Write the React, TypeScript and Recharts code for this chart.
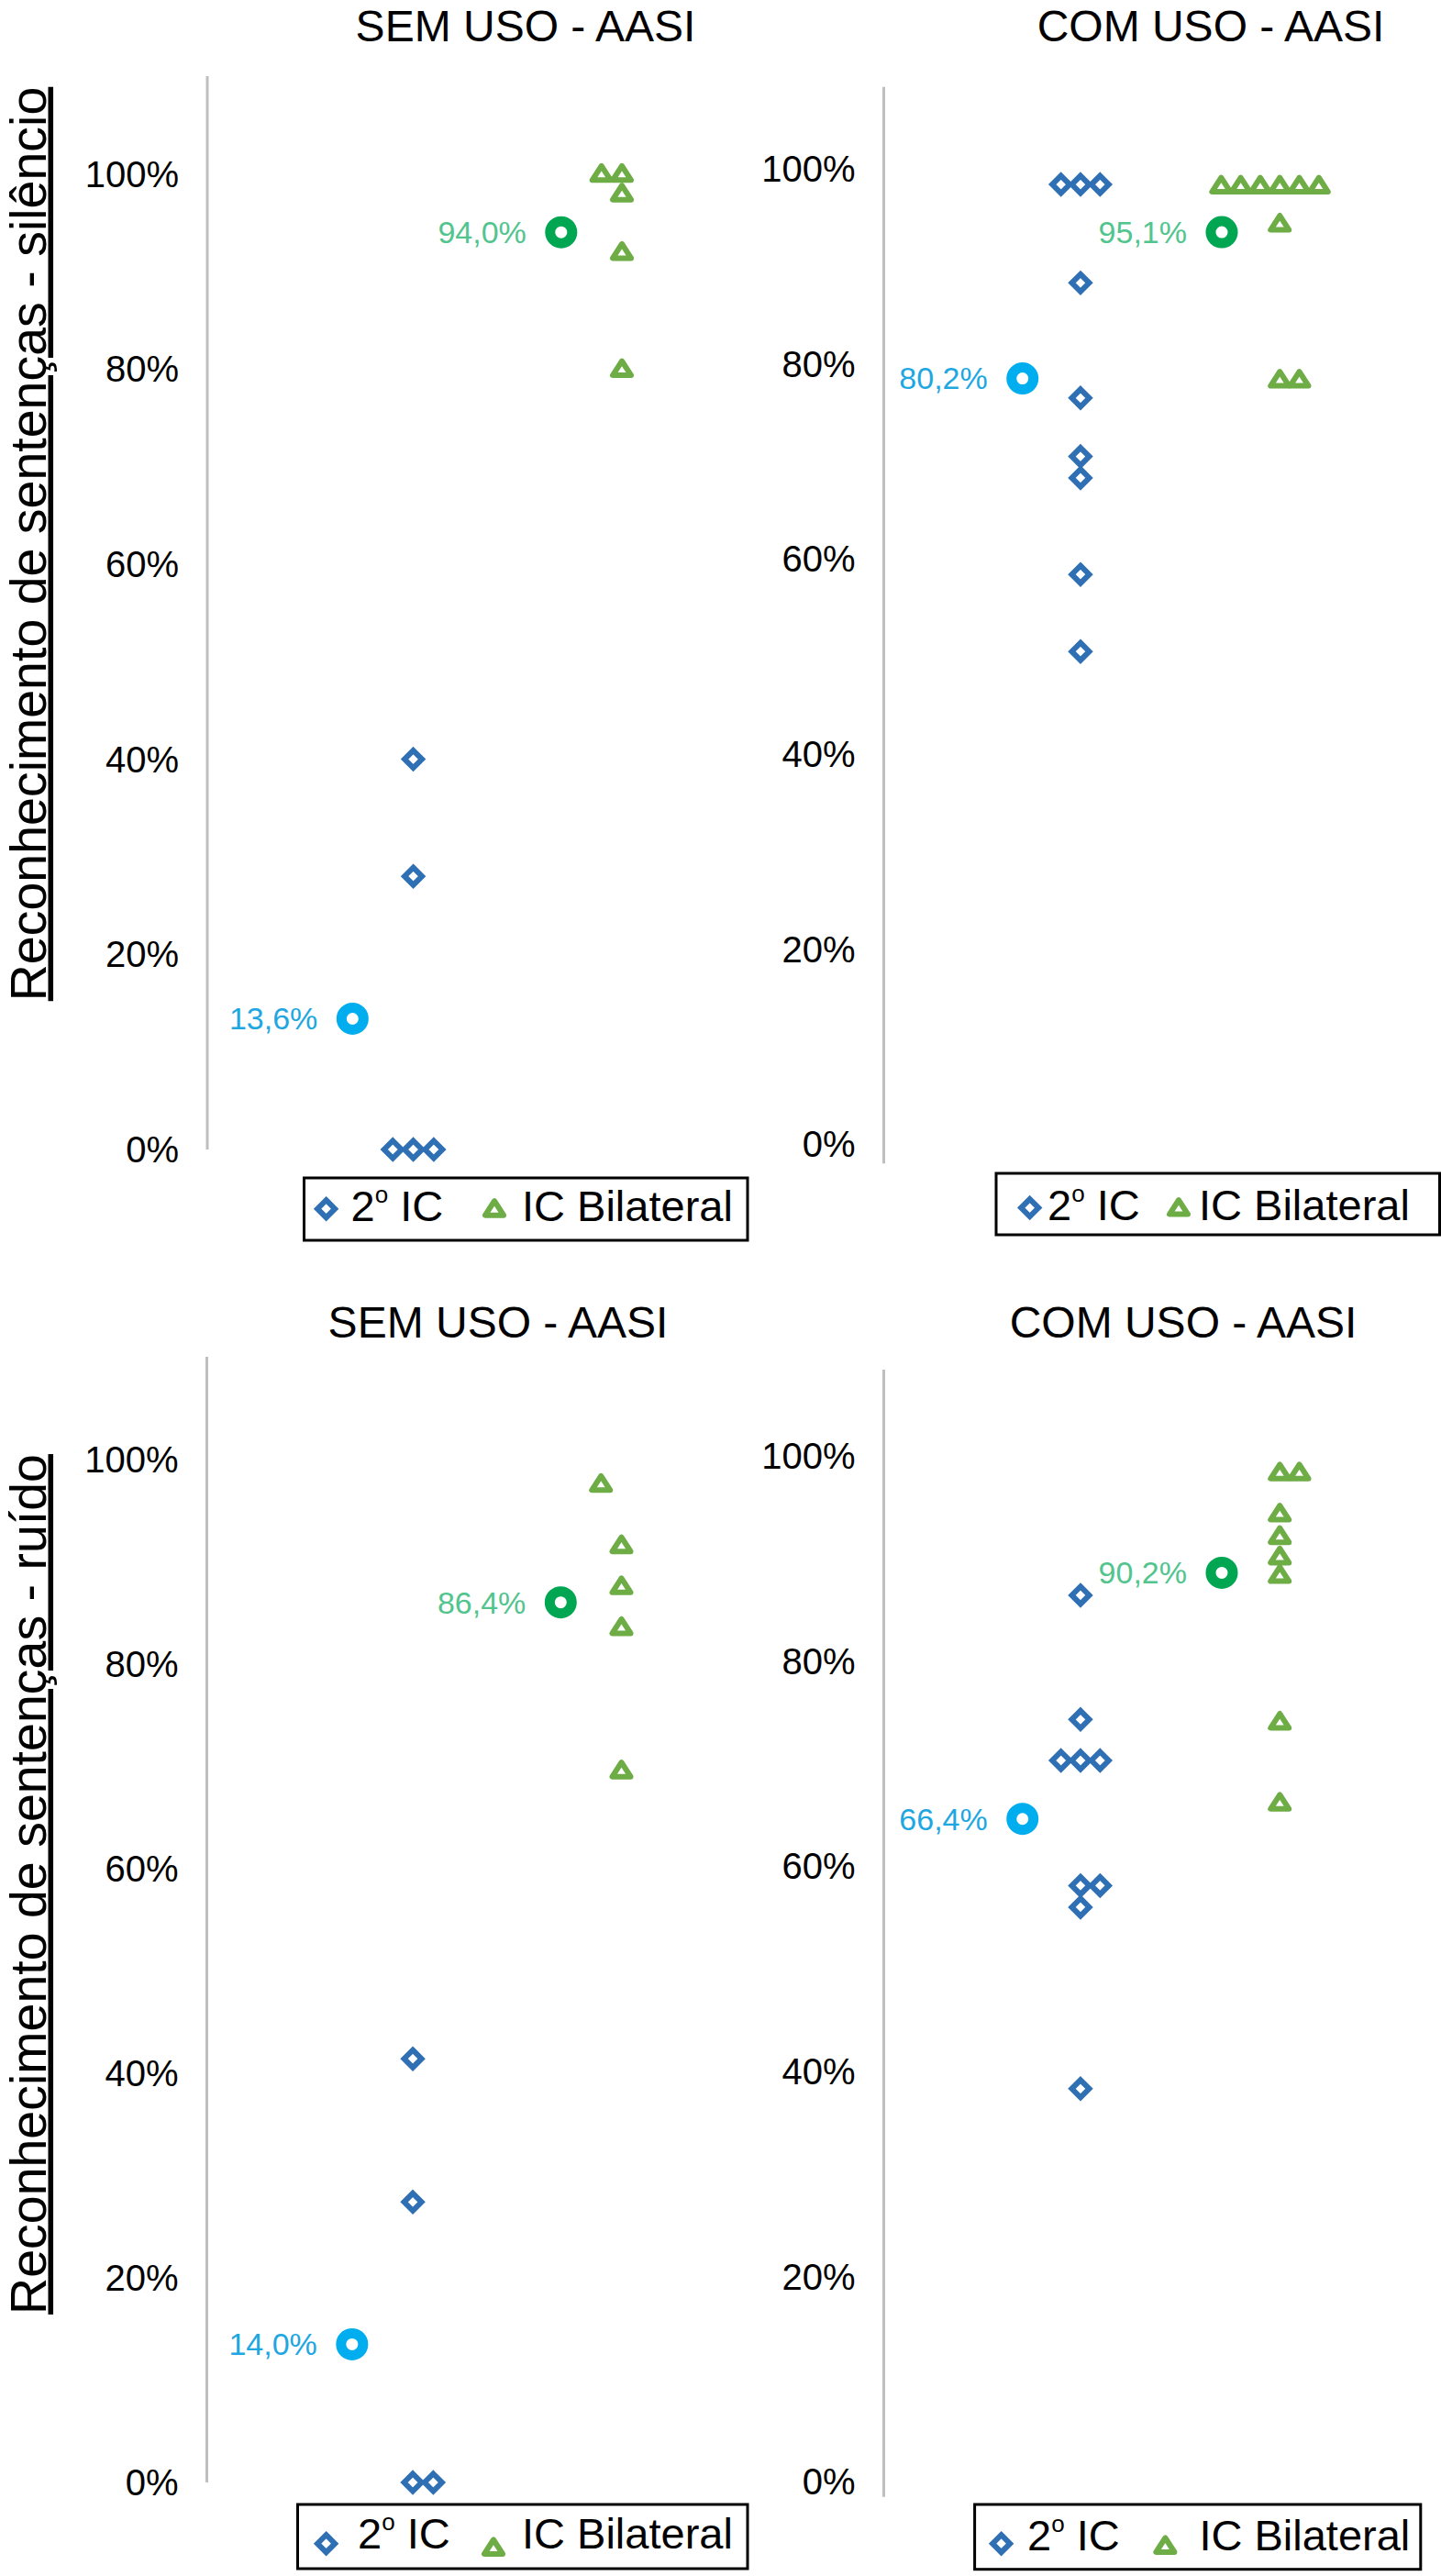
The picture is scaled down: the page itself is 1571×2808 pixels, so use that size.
import React from 'react';
import { ScatterChart, Scatter, XAxis, YAxis } from 'recharts';

const FONT = '"Liberation Sans", Arial, Helvetica, sans-serif';

// y axis ticks (percent)
const yTicks = [0, 20, 40, 60, 80, 100];

// x slots (axis units) for: mean 2º IC, 2º IC, mean IC Bilateral, IC Bilateral
const categorySlots = [7.1, 10.07, 17.3, 20.27];

// --- Silêncio / sem uso AASI ---
const silSemIC2 = [40, 28, 0, 0, 0];
const silSemIC2Jitter = [0, 0, -1, 0, 1];
const silSemBil = [100, 100, 98, 92, 80];
const silSemBilJitter = [-1, 0, 0, 0, 0];
const silSemMeans = [13.4, 94.0];
const silSemMeanLabels = ['13,6%', '94,0%'];

// --- Silêncio / com uso AASI ---
const silComIC2 = [98.4, 98.4, 98.4, 88.3, 76.5, 70.5, 68.3, 58.4, 50.5];
const silComIC2Jitter = [-1, 0, 1, 0, 0, 0, 0, 0, 0];
const silComBil = [98.3, 98.3, 98.3, 98.3, 98.3, 98.3, 94.4, 78.4, 78.4];
const silComBilJitter = [-3, -2, -1, 0, 1, 2, 0, 0, 1];
const silComMeans = [78.5, 93.5];
const silComMeanLabels = ['80,2%', '95,1%'];

// --- Ruído / sem uso AASI ---
const ruiSemIC2 = [41.4, 27.4, 0, 0];
const ruiSemIC2Jitter = [0, 0, 0, 1];
const ruiSemBil = [97.6, 91.6, 87.6, 83.6, 69.6];
const ruiSemBilJitter = [-1, 0, 0, 0, 0];
const ruiSemMeans = [13.5, 86.0];
const ruiSemMeanLabels = ['14,0%', '86,4%'];

// --- Ruído / com uso AASI ---
const ruiComIC2 = [86.4, 74.3, 70.3, 70.3, 70.3, 58.1, 58.1, 56.0, 38.3];
const ruiComIC2Jitter = [0, 0, -1, 0, 1, 0, 1, 0, 0];
const ruiComBil = [98.4, 98.4, 94.4, 92.2, 90.2, 88.4, 74.1, 66.2];
const ruiComBilJitter = [0, 1, 0, 0, 0, 0, 0, 0];
const ruiComMeans = [64.6, 88.6];
const ruiComMeanLabels = ['66,4%', '90,2%'];

const BLUE = '#2F6FB3';
const GREEN = '#6EAC46';
const MEAN_BLUE = '#00AEEF';
const MEAN_GREEN = '#00A651';
const LABEL_BLUE = '#1EA7E1';
const LABEL_GREEN = '#52C48E';

const Diamond = (props: any) => {
  const { cx, cy } = props;
  const r = 9.5;
  return (
    <path
      d={`M${cx},${cy - r}L${cx + r},${cy}L${cx},${cy + r}L${cx - r},${cy}Z`}
      fill="#fff"
      stroke={BLUE}
      strokeWidth={6}
    />
  );
};

const Triangle = (props: any) => {
  const { cx, cy } = props;
  return (
    <path
      d={`M${cx - 10},${cy + 7}L${cx + 10},${cy + 7}L${cx},${cy - 8.5}Z`}
      fill="#fff"
      stroke={GREEN}
      strokeWidth={6}
      strokeLinejoin="round"
    />
  );
};

const meanShape = (ring: string, textColor: string) => (props: any) => {
  const { cx, cy, payload } = props;
  return (
    <g>
      <circle cx={cx} cy={cy} r={12} fill="#fff" stroke={ring} strokeWidth={11} />
      <text
        x={cx - 38}
        y={cy}
        dy="0.35em"
        textAnchor="end"
        fontSize={34}
        fontFamily={FONT}
        fill={textColor}
      >
        {payload.label}
      </text>
    </g>
  );
};

const toPoints = (values: number[], jitter: number[], slot: number) =>
  values.map((y, i) => ({ x: slot + jitter[i], y }));

interface PanelProps {
  left: number;
  top: number;
  width: number;
  height: number;
  yWidth: number;
  margin: { top: number; right: number; bottom: number };
  domain: [number, number];
  ic2: number[];
  ic2Jitter: number[];
  bil: number[];
  bilJitter: number[];
  means: number[];
  meanLabels: string[];
}

const Panel: React.FC<PanelProps> = (p) => {
  const mean2 = [{ x: categorySlots[0], y: p.means[0], label: p.meanLabels[0] }];
  const meanB = [{ x: categorySlots[2], y: p.means[1], label: p.meanLabels[1] }];
  return (
    <div style={{ position: 'absolute', left: p.left, top: p.top }}>
      <ScatterChart
        width={p.width}
        height={p.height}
        margin={{ top: p.margin.top, right: p.margin.right, bottom: p.margin.bottom, left: 0 }}
      >
        <XAxis type="number" dataKey="x" domain={[0, 27]} hide />
        <YAxis
          type="number"
          dataKey="y"
          domain={p.domain}
          ticks={yTicks}
          interval={0}
          width={p.yWidth}
          axisLine={{ stroke: '#BFBFBF', strokeWidth: 3 }}
          tickLine={false}
          tickSize={0}
          tickMargin={31}
          tick={{ fontSize: 40, fill: '#000', fontFamily: FONT }}
          tickFormatter={(v: number) => `${v}%`}
        />
        <Scatter data={mean2} shape={meanShape(MEAN_BLUE, LABEL_BLUE)} isAnimationActive={false} />
        <Scatter data={toPoints(p.ic2, p.ic2Jitter, categorySlots[1])} shape={Diamond} isAnimationActive={false} />
        <Scatter data={meanB} shape={meanShape(MEAN_GREEN, LABEL_GREEN)} isAnimationActive={false} />
        <Scatter data={toPoints(p.bil, p.bilJitter, categorySlots[3])} shape={Triangle} isAnimationActive={false} />
      </ScatterChart>
    </div>
  );
};

const LegendBox = ({ x, y, w, h, dx, tx, ix, bx, baseline, my, ty }: any) => (
  <g fontFamily={FONT}>
    <rect x={x} y={y} width={w} height={h} fill="#fff" stroke="#000" strokeWidth={3} />
    <Diamond cx={dx} cy={my} />
    <text x={tx} y={baseline} fontSize={47} fill="#000">
      2<tspan fontSize={26} dy={-20}>o</tspan>
      <tspan dy={20}>{'\u00A0IC'}</tspan>
    </text>
    <Triangle cx={ix} cy={ty} />
    <text x={bx} y={baseline} fontSize={47} fill="#000">IC Bilateral</text>
  </g>
);

const Overlay = () => (
  <svg
    width={1571}
    height={2808}
    style={{ position: 'absolute', left: 0, top: 0, pointerEvents: 'none' }}
  >
    <g fontFamily={FONT} fill="#000">
      <text x={573} y={45} fontSize={48} textAnchor="middle">SEM USO - AASI</text>
      <text x={1320} y={45} fontSize={48} textAnchor="middle">COM USO - AASI</text>
      <text x={543} y={1458} fontSize={48} textAnchor="middle">SEM USO - AASI</text>
      <text x={1290} y={1458} fontSize={48} textAnchor="middle">COM USO - AASI</text>
      <text
        transform="translate(49.5,593) rotate(-90)"
        textAnchor="middle"
        fontSize={55.5}
        textDecoration="underline"
      >
        Reconhecimento de sentenças - silêncio
      </text>
      <text
        transform="translate(49.5,2054) rotate(-90)"
        textAnchor="middle"
        fontSize={55.5}
        textDecoration="underline"
      >
        Reconhecimento de sentenças - ruído
      </text>
    </g>
    <LegendBox x={331.5} y={1284} w={483.5} h={68} dx={355.6} tx={382.6} ix={539} bx={569} baseline={1331} my={1317.7} ty={1317.7} />
    <LegendBox x={1086} y={1279} w={483.5} h={67} dx={1122.7} tx={1142} ix={1285} bx={1307} baseline={1330} my={1316.6} ty={1316.6} />
    <LegendBox x={324.5} y={2730} w={490.5} h={70} dx={355.6} tx={390} ix={538} bx={569} baseline={2778} my={2772.7} ty={2777} />
    <LegendBox x={1062.6} y={2730} w={486.2} h={70.7} dx={1091.6} tx={1120} ix={1270.4} bx={1307.4} baseline={2779.5} my={2772.7} ty={2775} />
  </svg>
);

const App: React.FC = () => (
  <div style={{ position: 'absolute', left: 0, top: 0, width: 1571, height: 2808, background: '#fff' }}>
    <Panel
      left={0} top={0} width={840} height={1300} yWidth={226}
      margin={{ top: 83, right: 11.9, bottom: 47 }}
      domain={[0, 110]}
      ic2={silSemIC2} ic2Jitter={silSemIC2Jitter}
      bil={silSemBil} bilJitter={silSemBilJitter}
      means={silSemMeans} meanLabels={silSemMeanLabels}
    />
    <Panel
      left={740} top={0} width={831} height={1300} yWidth={223.5}
      margin={{ top: 94.7, right: 32.4, bottom: 31.7 }}
      domain={[-2, 108.4]}
      ic2={silComIC2} ic2Jitter={silComIC2Jitter}
      bil={silComBil} bilJitter={silComBilJitter}
      means={silComMeans} meanLabels={silComMeanLabels}
    />
    <Panel
      left={0} top={1400} width={840} height={1330} yWidth={225.5}
      margin={{ top: 79, right: 12.4, bottom: 24 }}
      domain={[0, 110]}
      ic2={ruiSemIC2} ic2Jitter={ruiSemIC2Jitter}
      bil={ruiSemBil} bilJitter={ruiSemBilJitter}
      means={ruiSemMeans} meanLabels={ruiSemMeanLabels}
    />
    <Panel
      left={740} top={1400} width={831} height={1330} yWidth={223.5}
      margin={{ top: 93, right: 32.4, bottom: 8.2 }}
      domain={[-1.5, 108.4]}
      ic2={ruiComIC2} ic2Jitter={ruiComIC2Jitter}
      bil={ruiComBil} bilJitter={ruiComBilJitter}
      means={ruiComMeans} meanLabels={ruiComMeanLabels}
    />
    <Overlay />
  </div>
);

export default App;
